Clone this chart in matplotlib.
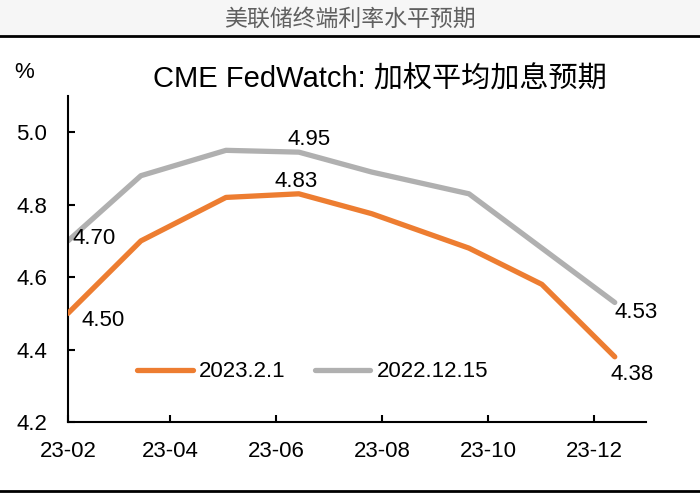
import numpy as np
import pandas as pd
import matplotlib
matplotlib.use("Agg")
import matplotlib.pyplot as plt
from matplotlib.lines import Line2D

plt.rcParams['font.family'] = ['Liberation Sans', 'Noto Sans CJK SC', 'DejaVu Sans']

# data
meeting_dates = ["2023-02-01", "2023-03-15", "2023-05-03", "2023-06-14",
                 "2023-07-26", "2023-09-20", "2023-11-01", "2023-12-13"]
rate_2023_02_01 = [4.50, 4.70, 4.82, 4.83, 4.775, 4.68, 4.58, 4.38]
rate_2022_12_15 = [4.70, 4.88, 4.95, 4.945, 4.89, 4.83, 4.68, 4.53]
series_names = ["2023.2.1", "2022.12.15"]
tick_dates = ["2023-02-01", "2023-04-01", "2023-06-01", "2023-08-01",
              "2023-10-01", "2023-12-01"]
tick_labels = ["23-02", "23-04", "23-06", "23-08", "23-10", "23-12"]
y_ticks = [4.2, 4.4, 4.6, 4.8, 5.0]

ORANGE = '#ED7D31'
GRAY = '#B0B0B0'
FS = 16

dates = pd.to_datetime(meeting_dates)

fig = plt.figure(figsize=(7, 4.94), dpi=100)
fig.patch.set_facecolor('white')

# header band
fig.patches.append(plt.Rectangle((0, 1 - 35 / 494), 1, 35 / 494,
                                 transform=fig.transFigure, color='#F6F6F6', zorder=0))
fig.text(0.5, 1 - 19 / 494, "美联储终端利率水平预期", ha='center', va='center',
         fontsize=16.5, color='#606060')
fig.add_artist(Line2D([0, 1], [1 - 36 / 494] * 2, transform=fig.transFigure,
                      color='black', lw=2))
fig.add_artist(Line2D([0, 1], [1 - 491 / 494] * 2, transform=fig.transFigure,
                      color='black', lw=2))

ax = fig.add_axes([68 / 700, 1 - 422 / 494, (646 - 68) / 700, (422 - 96) / 494])
ax.plot(dates, rate_2023_02_01, color=ORANGE, lw=3.8, solid_capstyle='round',
        label=series_names[0], zorder=3)
ax.plot(dates, rate_2022_12_15, color=GRAY, lw=3.8, solid_capstyle='round',
        label=series_names[1], zorder=2)

ax.set_ylim(4.2, 5.1)
ax.set_yticks(y_ticks)
ax.set_yticklabels([f"{v:.1f}" for v in y_ticks])
ax.set_xlim(pd.Timestamp("2023-02-01"), pd.Timestamp("2023-12-31"))
ax.set_xticks(pd.to_datetime(tick_dates))
ax.set_xticklabels(tick_labels)

for side in ['top', 'right']:
    ax.spines[side].set_visible(False)
for side in ['left', 'bottom']:
    ax.spines[side].set_linewidth(1.5)
ax.tick_params(axis='both', direction='in', length=5, width=1.5, labelsize=FS)
ax.tick_params(axis='y', pad=15)
ax.tick_params(axis='x', pad=14)

# value labels
def note(i, vals, dx, dy, ha='left'):
    ax.annotate(f"{vals[i]:.2f}", (dates[i], vals[i]), xytext=(dx, dy),
                textcoords='offset points', ha=ha, va='center', fontsize=FS)

note(0, rate_2022_12_15, 3, 2)
note(0, rate_2023_02_01, 10, -5)
note(3, rate_2022_12_15, 7, 9, ha='center')
note(3, rate_2023_02_01, -2, 9, ha='center')
note(7, rate_2022_12_15, 0, -7)
note(7, rate_2023_02_01, -3, -13)

ax.legend(loc='lower left', bbox_to_anchor=(0.085, 0.06), ncol=2, frameon=False,
          fontsize=FS, handlelength=2.5, handletextpad=0.3, columnspacing=1.3)

fig.text(24 / 700, 1 - 72 / 494, "%", ha='center', va='center', fontsize=FS)
fig.text(380 / 700, 1 - 80 / 494, "CME FedWatch: 加权平均加息预期", ha='center',
         va='center', fontsize=21)

fig.savefig("out.png", dpi=100, facecolor='white')
